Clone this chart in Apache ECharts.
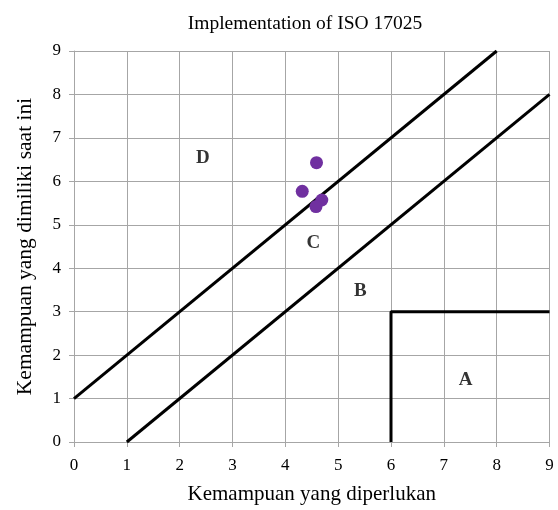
<!DOCTYPE html>
<html><head><meta charset="utf-8">
<script src="https://cdn.jsdelivr.net/npm/echarts@6/dist/echarts.min.js"></script>
<style>html,body{margin:0;padding:0;background:#fff}#c{width:558px;height:510px}</style>
</head><body><div id="c"></div>
<script>
const title = 'Implementation of ISO 17025';
const xName = 'Kemampuan yang diperlukan';
const yName = 'Kemampuan yang dimiliki saat ini';
const pointsX = [4.59, 4.32, 4.69, 4.58];
const pointsY = [6.43, 5.77, 5.57, 5.42];
const upperLineX = [0, 8];
const upperLineY = [1, 9];
const lowerLineX = [1, 9];
const lowerLineY = [0, 8];
const boxX = [6, 6, 9];
const boxY = [0, 3, 3];
const zoneNames = ['D', 'C', 'B', 'A'];
const zoneX = [2.44, 4.53, 5.42, 7.41];
const zoneY = [6.54, 4.57, 3.47, 1.42];
const ticks = [0,1,2,3,4,5,6,7,8,9];

const zip = (a, b) => a.map((v, i) => [v, b[i]]);
const font = 'Liberation Serif';
const lineStyle = {color: '#000', width: 3};
const chart = echarts.init(document.getElementById('c'));
chart.setOption({
  animation: false,
  title: {text: title, left: 300, top: 9, textAlign: 'center',
    textStyle: {fontFamily: font, fontSize: 19.5, fontWeight: 'normal', color: '#000'}},
  grid: {left: 74, right: 8.5, top: 51, bottom: 65},
  xAxis: {type: 'value', min: 0, max: 9, interval: 1,
    name: xName, nameLocation: 'middle', nameGap: 42,
    nameTextStyle: {fontFamily: font, fontSize: 21, color: '#000'},
    axisLine: {show: true, onZero: false, lineStyle: {color: '#a6a6a6'}},
    axisTick: {show: true, length: 5, lineStyle: {color: '#a6a6a6'}},
    axisLabel: {fontFamily: font, fontSize: 17, color: '#000', margin: 15,
      formatter: v => ticks.includes(v) ? String(v) : ''},
    splitLine: {show: true, lineStyle: {color: '#a6a6a6'}}},
  yAxis: {type: 'value', min: 0, max: 9, interval: 1,
    name: yName, nameLocation: 'middle', nameGap: 38,
    nameTextStyle: {fontFamily: font, fontSize: 21.5, color: '#000'},
    axisLine: {show: true, onZero: false, lineStyle: {color: '#a6a6a6'}},
    axisTick: {show: true, length: 5, lineStyle: {color: '#a6a6a6'}},
    axisLabel: {fontFamily: font, fontSize: 17, color: '#000', margin: 13},
    splitLine: {show: true, lineStyle: {color: '#a6a6a6'}}},
  series: [
    {type: 'line', data: zip(upperLineX, upperLineY), showSymbol: false, lineStyle, z: 3},
    {type: 'line', data: zip(lowerLineX, lowerLineY), showSymbol: false, lineStyle, z: 3},
    {type: 'line', data: zip(boxX, boxY), showSymbol: false, lineStyle, z: 3},
    {type: 'scatter', data: zip(pointsX, pointsY), symbolSize: 13,
      itemStyle: {color: '#7030A0', opacity: 1}, z: 4},
    {type: 'scatter', data: zoneX.map((x, i) => ({value: [x, zoneY[i]], name: zoneNames[i]})),
      symbolSize: 0, z: 5,
      label: {show: true, position: 'inside', formatter: p => p.name,
        fontFamily: font, fontSize: 19, fontWeight: 'bold', color: '#000'}}
  ]
});
</script></body></html>
